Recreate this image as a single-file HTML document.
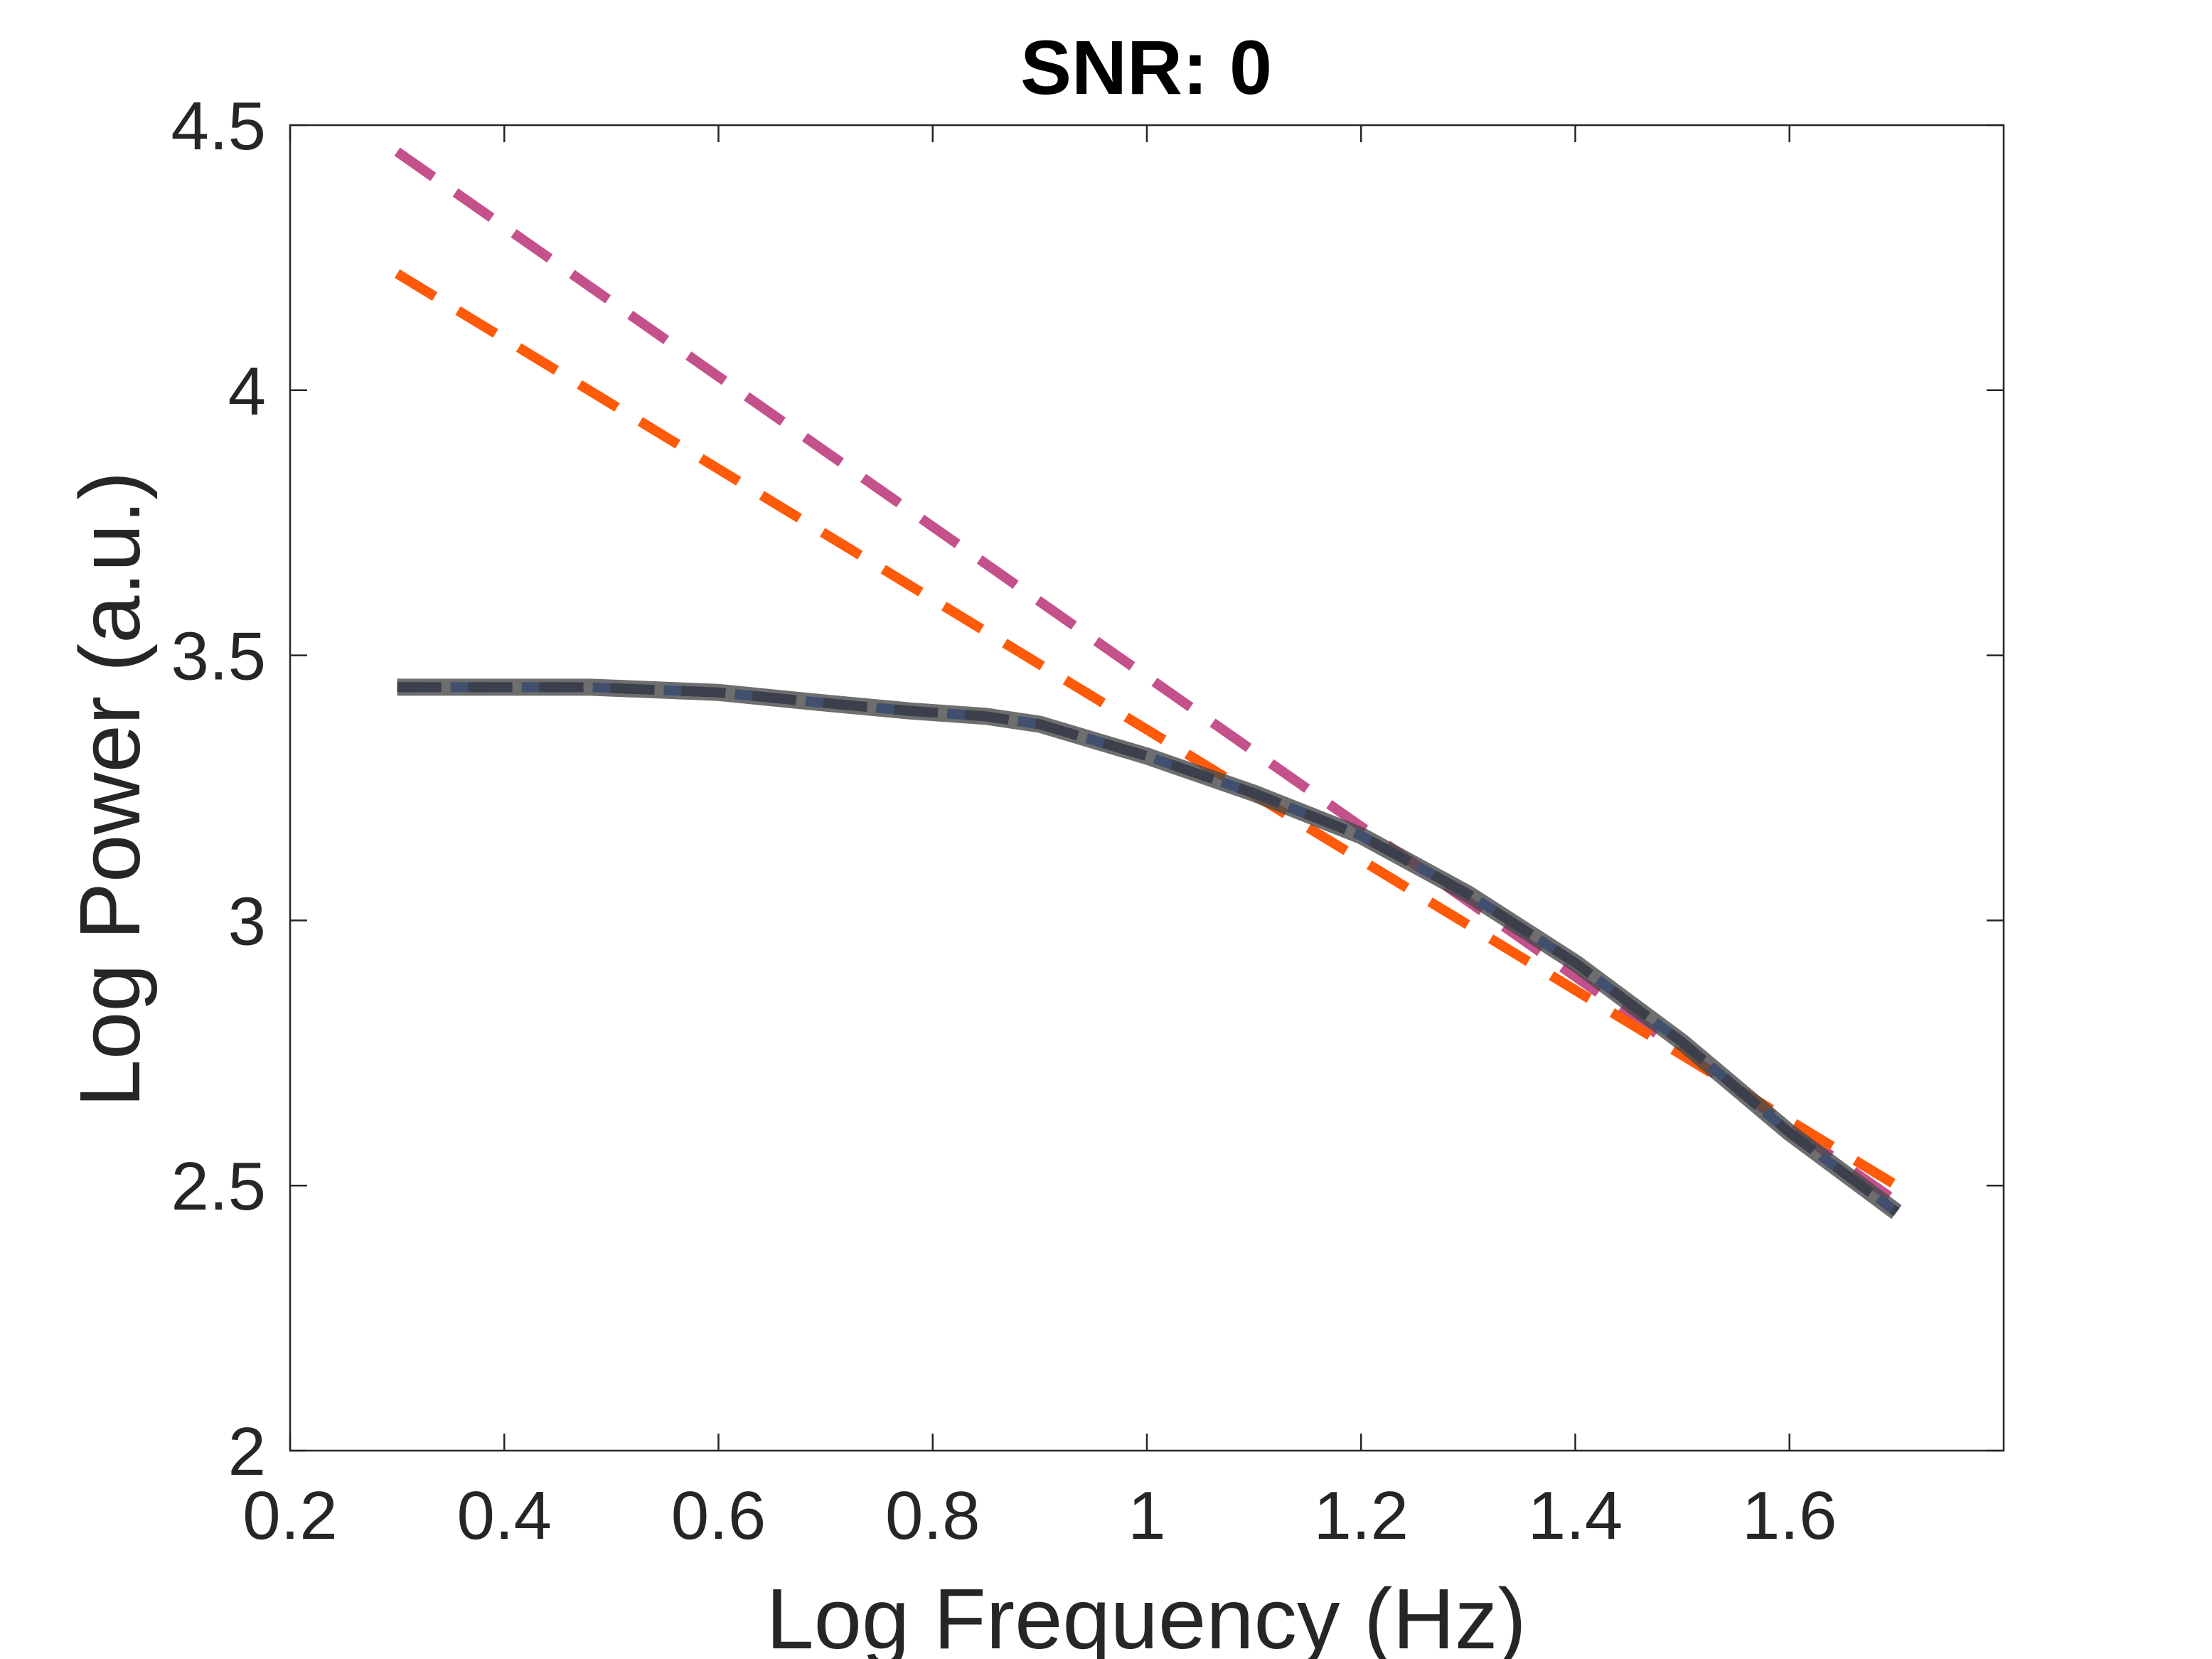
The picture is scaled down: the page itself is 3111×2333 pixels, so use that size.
<!DOCTYPE html>
<html><head><meta charset="utf-8"><style>
html,body{margin:0;padding:0;background:#fff;}
svg{display:block;font-family:"Liberation Sans",Arial,sans-serif;}
</style></head><body>
<svg id="chart" width="3111" height="2333" viewBox="0 0 3111 2333" xmlns="http://www.w3.org/2000/svg">
<rect width="3111" height="2333" fill="#fff"/>
<text x="1612" y="132" text-anchor="middle" font-size="108" font-weight="bold" fill="#000">SNR: 0</text>
<g id="plot"></g>
<text x="1612" y="2318" text-anchor="middle" font-size="121" fill="#262626">Log Frequency (Hz)</text>
<text transform="translate(196,1110) rotate(-90)" text-anchor="middle" font-size="121" fill="#262626">Log Power (a.u.)</text>
</svg>
<script>
const xTicks=[0.2,0.4,0.6,0.8,1,1.2,1.4,1.6];
const xTickLabels=["0.2","0.4","0.6","0.8","1","1.2","1.4","1.6"];
const yTicks=[2,2.5,3,3.5,4,4.5];
const yTickLabels=["2","2.5","3","3.5","4","4.5"];
const freqs=[0.3,0.4,0.48,0.6,0.7,0.78,0.85,0.9,1.0,1.1,1.2,1.3,1.4,1.5,1.6,1.7];
const dataPower=[3.44,3.44,3.44,3.43,3.41,3.395,3.385,3.37,3.31,3.24,3.16,3.05,2.92,2.77,2.6,2.45];
const fitX=[0.3,1.7];
const fitMagenta=[4.45,2.47];
const fitOrange=[4.22,2.5];
const L=408,R=2818,T=176,B=2040,xmin=0.2,xmax=1.8,ymin=2,ymax=4.5;
const sx=v=>L+(v-xmin)/(xmax-xmin)*(R-L);
const sy=v=>B-(v-ymin)/(ymax-ymin)*(B-T);
const NS="http://www.w3.org/2000/svg";
const g=document.getElementById('plot');
function mk(tag,attrs){const e=document.createElementNS(NS,tag);for(const k in attrs)e.setAttribute(k,attrs[k]);g.appendChild(e);return e;}
const frame=mk('rect',{x:L,y:T,width:R-L,height:B-T,fill:'none',stroke:'#262626','stroke-width':2.5});


xTicks.forEach((v,i)=>{
 const t=mk('path',{d:`M${sx(v)},${B}v-24M${sx(v)},${T}v24`,stroke:'#262626','stroke-width':2.5});
 
 
 const tx=mk('text',{x:sx(v),y:B+124,'text-anchor':'middle','font-size':96,fill:'#262626'});
 tx.textContent=xTickLabels[i];
 
 
});
yTicks.forEach((v,i)=>{
 const t=mk('path',{d:`M${L},${sy(v)}h24M${R},${sy(v)}h-24`,stroke:'#262626','stroke-width':2.5});
 
 
 const tx=mk('text',{x:L-34,y:sy(v)+34,'text-anchor':'end','font-size':96,fill:'#262626'});
 tx.textContent=yTickLabels[i];
 
 
});
function line(xs,ys,attrs){return mk('path',Object.assign({d:xs.map((x,i)=>(i?'L':'M')+sx(x)+','+sy(ys[i])).join(''),fill:'none'},attrs));}
const m=line(fitX,fitMagenta,{stroke:'#C4508C','stroke-width':14,'stroke-dasharray':'62,38'});


const o=line(fitX,fitOrange,{stroke:'#FF5A0A','stroke-width':14,'stroke-dasharray':'62,38'});


const bl=line(freqs,dataPower,{stroke:'#1a6cff','stroke-width':14,'stroke-dasharray':'62,38','stroke-dashoffset':25});


const nv=line(freqs,dataPower,{stroke:'#001a55','stroke-width':14,'stroke-dasharray':'62,38'});


const gr=line(freqs,dataPower,{stroke:'#4a4a4a','stroke-opacity':0.8,'stroke-width':24,'stroke-linejoin':'round'});


</script>
</body></html>
